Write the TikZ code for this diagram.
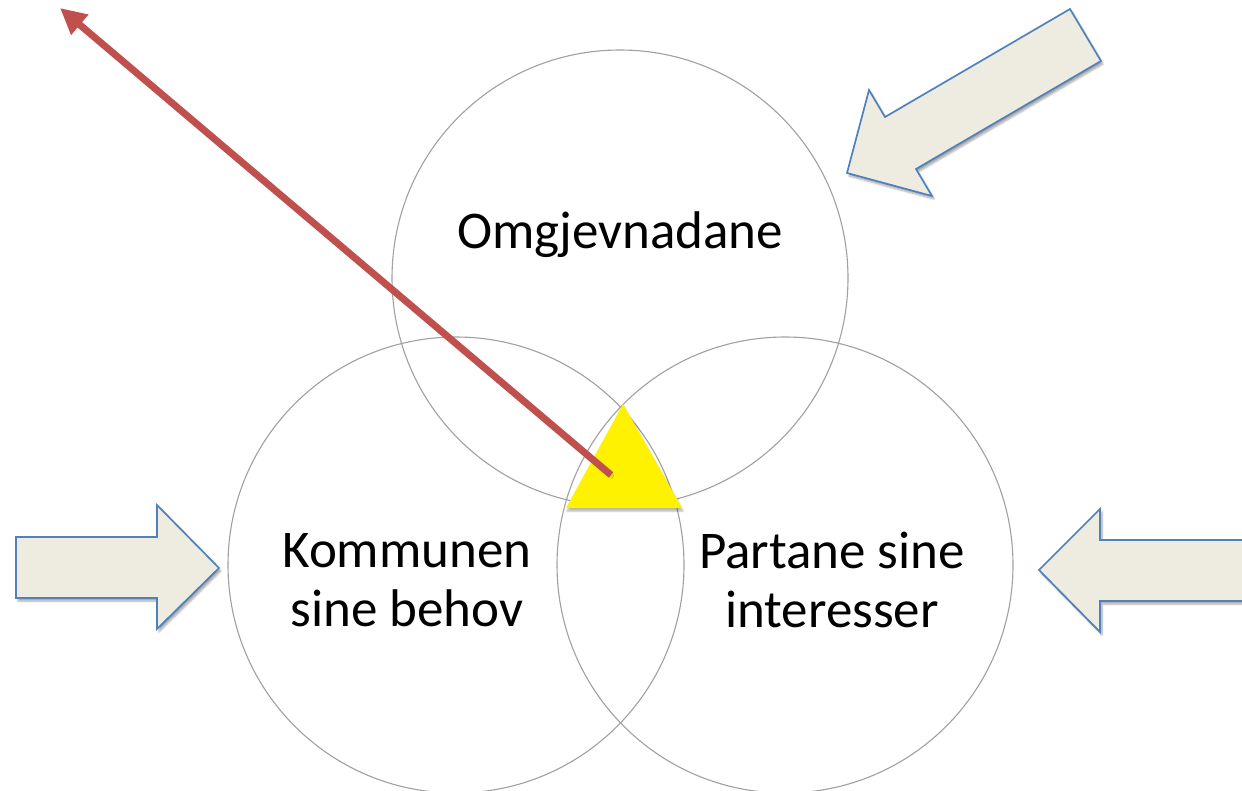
\documentclass[tikz,border=0pt]{standalone}
\usepackage{fontspec}
\setmainfont{Carlito}
\usetikzlibrary{arrows.meta,shadows.blur}
\definecolor{blockfill}{HTML}{EEECE1}
\definecolor{blockline}{HTML}{4F81BD}
\definecolor{redarrow}{HTML}{C0504D}
\definecolor{circline}{HTML}{A0A0A0}
\begin{document}
\begin{tikzpicture}[x=1pt,y=-1pt,
  ring/.style={circle, draw=circline, line width=1.1pt, minimum size=456pt, inner sep=0pt},
  label/.style={font=\fontsize{53}{59}\selectfont, align=center, text=black},
  blockarrow/.style={fill=blockfill, draw=blockline, line width=1.7pt, line join=miter,
     blur shadow={shadow xshift=2pt, shadow yshift=-3pt, shadow blur steps=6, shadow opacity=35}},
  pointer/.style={draw=redarrow, line width=7pt, -{Triangle[length=26pt,width=25pt]},
     blur shadow={shadow xshift=1.5pt, shadow yshift=-2pt, shadow blur steps=4, shadow opacity=25}}]
\useasboundingbox (0,0) rectangle (1242,790);
% circles
\node[ring] (top) at (620,278) {};
\node[ring] (left) at (456,565) {};
\node[ring] (right) at (785,565) {};
% labels
\node[label] (ltop) at (620,235) {Omgjevnadane};
\node[label] (lleft) at (407,580) {Kommunen\\sine behov};
\node[label] (lright) at (832,580) {Partane sine\\interesser};
% block arrows
\path[blockarrow] (16,537) -- (157,537) -- (157,505) -- (219,568) -- (157,629) -- (157,598) -- (16,598) -- cycle;
\path[blockarrow] (1260,540) -- (1100,540) -- (1100,509) -- (1039,570) -- (1100,632) -- (1100,601) -- (1260,601) -- cycle;
\path[blockarrow] (1070,9) -- (1101,61) -- (916,169) -- (932,196) -- (847,173) -- (869,90) -- (885,117) -- cycle;
% yellow triangle
\fill[yellow, blur shadow={shadow xshift=1pt, shadow yshift=-3pt, shadow blur steps=5, shadow opacity=30}] (623,404) -- (682,508) -- (566,508) -- cycle;
\coordinate (center) at (611,475);
\coordinate (far) at (60,8);
\draw[pointer] (center) -- (far);
\end{tikzpicture}
\end{document}
